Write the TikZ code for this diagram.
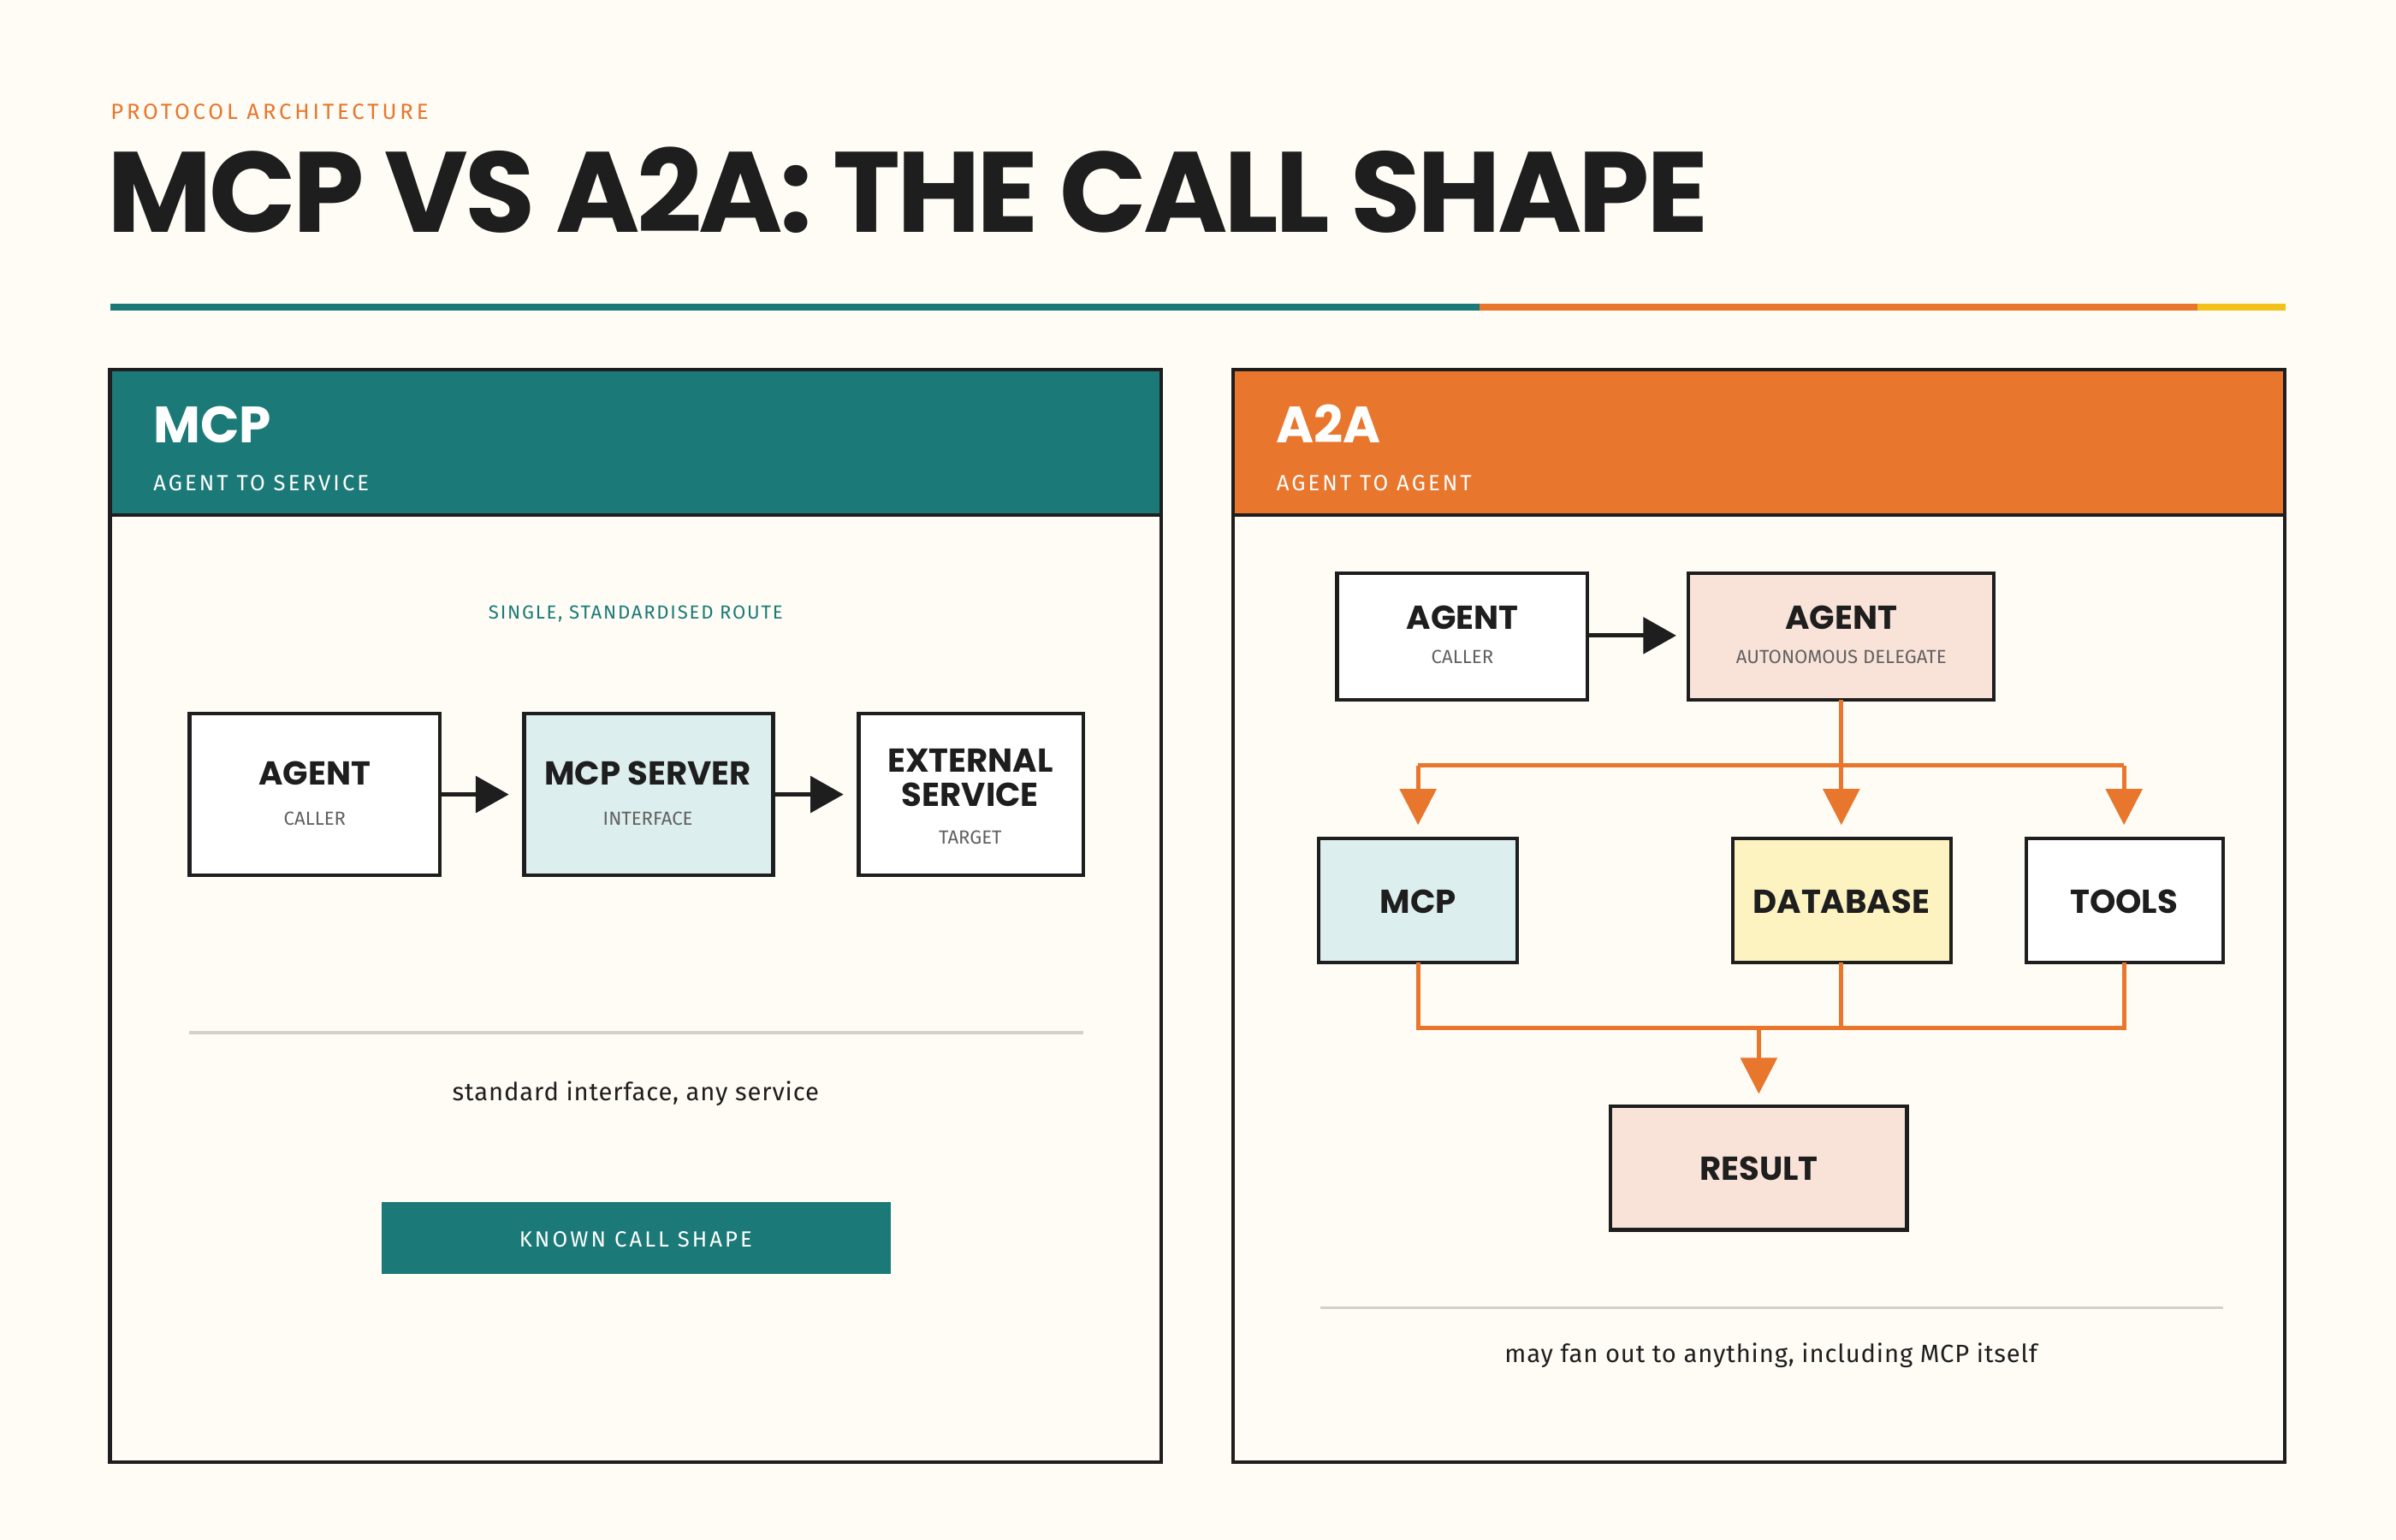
\documentclass[tikz,border=0pt]{standalone}
\usepackage{fontspec}
\setmainfont{Fira Sans}
\newfontfamily\heavy{Poppins}[UprightFont=*-Bold]
\usetikzlibrary{arrows.meta}
\definecolor{bg}{HTML}{FEFCF5}
\definecolor{teal}{HTML}{1B7A78}
\definecolor{orng}{HTML}{E8762C}
\definecolor{yel}{HTML}{F2C11B}
\definecolor{ink}{HTML}{1E1E1E}
\definecolor{lblue}{HTML}{DDEEEE}
\definecolor{peach}{HTML}{F9E3D8}
\definecolor{cream}{HTML}{FDF3C0}
\definecolor{gr}{HTML}{D2D2C8}
\begin{document}
\begin{tikzpicture}[x=0.017857cm,y=-0.017857cm,
  box/.style={draw=ink,line width=1.2pt,fill=white},
  big/.style={font=\heavy\fontsize{11}{12}\selectfont,text=ink,align=center},
  sub/.style={font=\fontsize{6.3}{7}\selectfont,text=ink!70},
  tip/.style={-{Triangle[length=11pt,width=12pt]}},
  barr/.style={tip,draw=ink,line width=1.5pt},
  oarr/.style={draw=orng,line width=1.5pt},
  otip/.style={oarr,-{Triangle[length=12pt,width=12pt]}}]
\fill[bg] (0,0) rectangle (1568,1008);
\path[use as bounding box] (0,0) rectangle (1568,1008);
\node[anchor=base west,inner sep=0,text=orng,font=\fontsize{7.3}{8}\selectfont\addfontfeature{LetterSpace=15}] (kick) at (72,78) {PROTOCOL ARCHITECTURE};
\node[anchor=base west,inner sep=0,text=ink,font=\heavy\fontsize{38}{40}\selectfont\addfontfeature{LetterSpace=-3}] (title) at (70,152) {MCP VS A2A: THE CALL SHAPE};
\fill[teal] (72,199) rectangle (968,203);
\fill[orng] (968,199) rectangle (1438,203);
\fill[yel] (1438,199) rectangle (1496,203);
% left panel
\draw[fill=bg,draw=ink,line width=1.2pt] (72,242) rectangle (760,957);
\draw[fill=teal,draw=ink,line width=1.2pt] (72,242) rectangle (760,337);
\node[anchor=base west,inner sep=0,text=white,font=\heavy\fontsize{17}{18}\selectfont] (lh) at (100,290) {MCP};
\node[anchor=base west,inner sep=0,text=white,font=\fontsize{7.3}{8}\selectfont\addfontfeature{LetterSpace=12}] (ls) at (100,321) {AGENT TO SERVICE};
\node[text=teal,font=\fontsize{6.3}{7}\selectfont\addfontfeature{LetterSpace=8}] (route) at (416,402) {SINGLE, STANDARDISED ROUTE};
\draw[box] (124,467) rectangle (288,573);
\draw[box,fill=lblue] (343,467) rectangle (506,573);
\draw[box] (562,467) rectangle (709,573);
\node[big] (a1) at (206,506) {AGENT};
\node[sub] at (206,536) {CALLER};
\node[big] (m1) at (424,506) {MCP SERVER};
\node[sub] at (424,536) {INTERFACE};
\node[big,font=\heavy\fontsize{11}{11.5}\selectfont] (e1) at (635,509) {EXTERNAL\\SERVICE};
\node[sub] at (635,548) {TARGET};
\coordinate (a1r) at (288,520); \coordinate (m1l) at (333,520);
\coordinate (m1r) at (506,520); \coordinate (e1l) at (552,520);
\draw[barr] (a1r) -- (m1l);
\draw[barr] (m1r) -- (e1l);
\draw[gr,line width=1pt] (124,676) -- (709,676);
\node[text=ink,font=\fontsize{8.3}{9}\selectfont\addfontfeature{LetterSpace=3}] (std) at (416,716) {standard interface, any service};
\fill[teal] (250,787) rectangle (583,834);
\node[text=white,font=\fontsize{7.3}{8}\selectfont\addfontfeature{LetterSpace=12}] (btn) at (416,811) {KNOWN CALL SHAPE};
% right panel
\draw[fill=bg,draw=ink,line width=1.2pt] (807,242) rectangle (1495,957);
\draw[fill=orng,draw=ink,line width=1.2pt] (807,242) rectangle (1495,337);
\node[anchor=base west,inner sep=0,text=white,font=\heavy\fontsize{17}{18}\selectfont] (rh) at (835,290) {A2A};
\node[anchor=base west,inner sep=0,text=white,font=\fontsize{7.3}{8}\selectfont\addfontfeature{LetterSpace=12}] (rs) at (835,321) {AGENT TO AGENT};
\draw[box] (875,375) rectangle (1039,458);
\draw[box,fill=peach] (1105,375) rectangle (1305,458);
\node[big] (a2) at (957,404) {AGENT};
\node[sub] at (957,430) {CALLER};
\node[big] (d2) at (1205,404) {AGENT};
\node[sub] at (1205,430) {AUTONOMOUS DELEGATE};
\coordinate (a2r) at (1039,416); \coordinate (d2l) at (1097,416);
\draw[barr] (a2r) -- (d2l);
\coordinate (d2b) at (1205,458);
\coordinate (j1) at (1205,501);
\draw[oarr] (928,501) -- (1390,501);
\draw[oarr] (d2b) -- (j1);
\draw[otip] (928,501) -- (928,540);
\draw[otip] (j1) -- (1205,540);
\draw[otip] (1390,501) -- (1390,540);
\draw[box,fill=lblue] (863,549) rectangle (993,630);
\draw[box,fill=cream] (1134,549) rectangle (1277,630);
\draw[box] (1326,549) rectangle (1455,630);
\node[big] (mc) at (928,590) {MCP};
\node[big] (db) at (1205,590) {DATABASE};
\node[big] (tl) at (1390,590) {TOOLS};
\draw[oarr] (928,630) -- (928,673) -- (1390,673) -- (1390,630);
\draw[oarr] (1205,630) -- (1205,673);
\draw[otip] (1151,673) -- (1151,716);
\draw[box,fill=peach] (1054,724) rectangle (1248,805);
\node[big] (res) at (1151,765) {RESULT};
\draw[gr,line width=1pt] (864,856) -- (1455,856);
\node[text=ink,font=\fontsize{8.3}{9}\selectfont\addfontfeature{LetterSpace=3}] (may) at (1159,887) {may fan out to anything, including MCP itself};
\end{tikzpicture}
\end{document}
